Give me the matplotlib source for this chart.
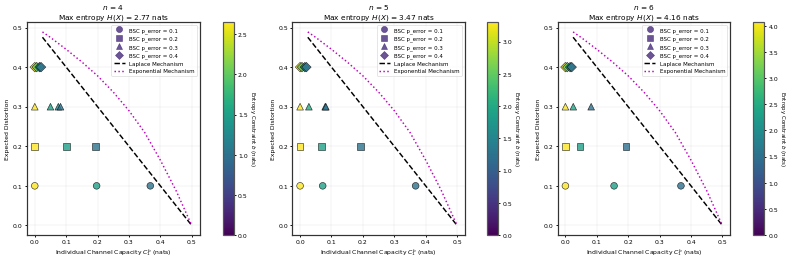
import matplotlib
matplotlib.use("Agg")
import matplotlib.pyplot as plt
from matplotlib.lines import Line2D
from matplotlib.colors import Normalize
from matplotlib.cm import ScalarMappable

# --- panel settings ---
n_values = [4, 5, 6]
max_entropy = [2.77, 3.47, 4.16]
cbar_max = [2.65, 3.30, 4.07]

p_errors = [0.1, 0.2, 0.3, 0.4]
distortions = [0.1, 0.2, 0.3, 0.4]
markers = ['o', 's', '^', 'D']

# --- BSC points: capacity (nats) and entropy constraint b, per panel / p_error ---
capacity_n4 = [[0.0, 0.197, 0.368], [0.0, 0.100, 0.193], [0.0, 0.050, 0.075, 0.082], [0.0, 0.006, 0.015, 0.020]]
b_n4 = [[2.65, 1.50, 1.00], [2.65, 1.50, 1.00], [2.65, 1.50, 1.25, 1.00], [2.65, 2.00, 1.30, 1.00]]

capacity_n5 = [[0.0, 0.072, 0.368], [0.0, 0.068, 0.193], [0.0, 0.028, 0.080, 0.082], [0.0, 0.006, 0.015, 0.020]]
b_n5 = [[3.30, 1.90, 1.25], [3.30, 1.90, 1.25], [3.30, 2.00, 1.40, 1.25], [3.30, 2.50, 1.60, 1.25]]

capacity_n6 = [[0.0, 0.155, 0.368], [0.0, 0.046, 0.193], [0.0, 0.025, 0.082], [0.0, 0.006, 0.015, 0.020]]
b_n6 = [[4.07, 2.30, 1.50], [4.07, 2.30, 1.50], [4.07, 2.40, 1.50], [4.07, 3.00, 2.00, 1.50]]

all_capacity = [capacity_n4, capacity_n5, capacity_n6]
all_b = [b_n4, b_n5, b_n6]

# --- mechanism curves (capacity vs distortion) ---
laplace_capacity = [0.0245, 0.5]
laplace_distortion = [0.4755, 0.0]

exp_capacity = [0.0245, 0.05, 0.1, 0.15, 0.2, 0.25, 0.3, 0.35, 0.4, 0.45, 0.5]
exp_distortion = [0.489, 0.475, 0.445, 0.413, 0.378, 0.337, 0.290, 0.235, 0.165, 0.088, 0.0]

fig = plt.figure(figsize=(18, 5.95), dpi=44)

ax_lefts = [0.034, 0.369, 0.704]
cb_lefts = [0.281, 0.615, 0.951]

for k in range(3):
    ax = fig.add_axes([ax_lefts[k], 0.099, 0.218, 0.813])
    cax = fig.add_axes([cb_lefts[k], 0.099, 0.014, 0.813])
    norm = Normalize(vmin=0, vmax=cbar_max[k])

    for i, p in enumerate(p_errors):
        caps = all_capacity[k][i]
        bs = all_b[k][i]
        ax.scatter(caps, [distortions[i]] * len(caps), c=bs, cmap='viridis', norm=norm,
                   marker=markers[i], s=120, alpha=0.8, edgecolors='k', linewidths=1.0, zorder=3)

    ax.plot(laplace_capacity, laplace_distortion, 'k--', lw=2.4, zorder=2)
    ax.plot(exp_capacity, exp_distortion, 'm:', lw=2.4, zorder=2)

    legend_elements = []
    purple = plt.cm.viridis(0.12)
    for i, p in enumerate(p_errors):
        legend_elements.append(Line2D([0], [0], marker=markers[i], color='w', label=f'BSC p_error = {p}',
                                      markerfacecolor=purple, markeredgecolor=purple, alpha=0.8, markersize=10))
    legend_elements.append(Line2D([0], [0], color='k', ls='--', lw=2.4, label='Laplace Mechanism'))
    legend_elements.append(Line2D([0], [0], color='m', ls=':', lw=2.4, label='Exponential Mechanism'))
    ax.legend(handles=legend_elements, loc='upper right', fontsize=9)

    ax.set_xlabel('Individual Channel Capacity $C_1^b$ (nats)', fontsize=10)
    ax.set_ylabel('Expected Distortion', fontsize=10)
    ax.set_title(f'$n$ = {n_values[k]}\nMax entropy $H(X)$ = {max_entropy[k]:.2f} nats', fontsize=12)
    ax.tick_params(labelsize=10, width=1.5)
    ax.grid(True, alpha=0.3)
    for spine in ax.spines.values():
        spine.set_linewidth(2.0)
        spine.set_color('#333333')

    sm = ScalarMappable(norm=norm, cmap='viridis')
    cb = fig.colorbar(sm, cax=cax)
    cb.set_label('Entropy Constraint $b$ (nats)', rotation=270, labelpad=15, fontsize=9)
    cb.ax.tick_params(labelsize=10, width=1.5)
    cb.outline.set_linewidth(2.0)
    cb.outline.set_edgecolor('#555555')

fig.savefig('out.png', dpi=44)
